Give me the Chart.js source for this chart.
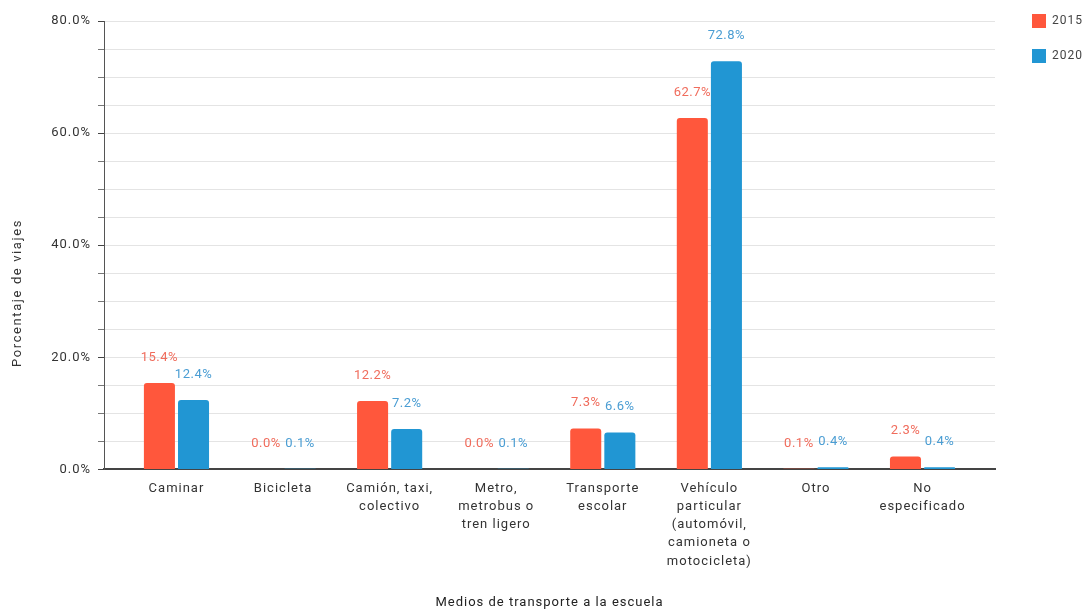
<!DOCTYPE html>
<html>
<head>
<meta charset="utf-8">
<script src="https://cdn.jsdelivr.net/npm/chart.js@4"></script>
<style>
  html, body { margin: 0; padding: 0; background: #ffffff; }
  canvas { display: block; }
</style>
</head>
<body>
<canvas id="chart" width="1092" height="614"></canvas>
<script>
// Modes of transport to school, share of trips (%)
const categories = [
  ['Caminar'],
  ['Bicicleta'],
  ['Camión, taxi,', 'colectivo'],
  ['Metro,', 'metrobus o', 'tren ligero'],
  ['Transporte', 'escolar'],
  ['Vehículo', 'particular', '(automóvil,', 'camioneta o', 'motocicleta)'],
  ['Otro'],
  ['No', 'especificado']
];
const seriesNames = ['2015', '2020'];
const values2015 = [15.4, 0.0, 12.2, 0.0, 7.3, 62.7, 0.1, 2.3];
const values2020 = [12.4, 0.1, 7.2, 0.1, 6.6, 72.8, 0.4, 0.4];
const yLabelledTicks = [0, 20, 40, 60, 80];

const barColors = ['#ff573c', '#2196d3'];
const valueLabelColors = ['#f06c5c', '#4a9dd3'];

Chart.defaults.font.family = 'Roboto, "Liberation Sans", sans-serif';
Chart.defaults.font.size = 13;
Chart.defaults.color = '#333333';

// Slightly open letter spacing for all chart text
const textSpacing = {
  id: 'textSpacing',
  afterInit(chart) { chart.ctx.letterSpacing = '1px'; },
  beforeLayout(chart) { chart.ctx.letterSpacing = '1px'; },
  beforeDraw(chart) { chart.ctx.letterSpacing = '1px'; }
};

// Legend sits in the top-right corner, outside the plot area
const legendPlacement = {
  id: 'legendPlacement',
  afterLayout(chart) {
    const lg = chart.legend;
    if (!lg) return;
    const pad = lg.options.labels.padding;
    lg.left = 1032 - pad;
    lg.top = 14 - pad;
    lg.width = 90;
    lg.height = 140;
    lg.right = lg.left + lg.width;
    lg.bottom = lg.top + lg.height;
  }
};

// Value labels above each bar
const valueLabels = {
  id: 'valueLabels',
  afterDatasetsDraw(chart) {
    const ctx = chart.ctx;
    ctx.save();
    ctx.letterSpacing = '0.5px';
    ctx.font = '13px Roboto, "Liberation Sans", sans-serif';
    ctx.textAlign = 'center';
    ctx.textBaseline = 'middle';
    chart.data.datasets.forEach((ds, di) => {
      const meta = chart.getDatasetMeta(di);
      ctx.fillStyle = valueLabelColors[di];
      meta.data.forEach((bar, i) => {
        const v = ds.data[i].y;
        ctx.fillText(v.toFixed(1) + '%', bar.x, bar.y - 25.5);
      });
    });
    ctx.restore();
  }
};

// Vertical axis title
const yAxisTitle = {
  id: 'yAxisTitle',
  afterDraw(chart) {
    const ctx = chart.ctx;
    ctx.save();
    ctx.letterSpacing = '1.6px';
    ctx.font = '13px Roboto, "Liberation Sans", sans-serif';
    ctx.fillStyle = '#333333';
    ctx.textAlign = 'center';
    ctx.textBaseline = 'middle';
    ctx.translate(18, 293);
    ctx.rotate(-Math.PI / 2);
    ctx.fillText('Porcentaje de viajes', 0, 0);
    ctx.restore();
  }
};

const seriesValues = [values2015, values2020];

new Chart(document.getElementById('chart'), {
  type: 'bar',
  data: {
    datasets: seriesNames.map((name, si) => ({
      label: name,
      data: seriesValues[si].map((v, i) => ({ x: i, y: v })),
      backgroundColor: barColors[si],
      borderWidth: 0,
      borderRadius: 3,
      categoryPercentage: 0.64,
      barPercentage: 0.91
    }))
  },
  options: {
    responsive: false,
    devicePixelRatio: 1,
    animation: false,
    layout: { padding: { top: 21, right: 97, bottom: 0, left: 0 } },
    plugins: {
      legend: {
        position: 'chartArea',
        align: 'start',
        labels: {
          boxWidth: 14,
          boxHeight: 14,
          padding: 21,
          color: '#444444',
          font: { size: 12 }
        }
      },
      tooltip: { enabled: false }
    },
    scales: {
      x: {
        type: 'linear',
        offset: false,
        min: -0.68,
        max: 7.68,
        afterBuildTicks(scale) {
          scale.ticks = categories.map((_, i) => ({ value: i }));
        },
        grid: { display: false, drawTicks: false, offset: false },
        border: { display: true, color: '#444444', width: 2 },
        ticks: {
          autoSkip: false,
          maxRotation: 0,
          minRotation: 0,
          padding: 10,
          color: '#333333',
          font: { size: 13, lineHeight: 1.4 },
          callback: (value) => categories[value]
        },
        title: {
          display: true,
          text: 'Medios de transporte a la escuela',
          color: '#222222',
          font: { size: 13, lineHeight: 1.2 },
          padding: { top: 15, bottom: 3 }
        }
      },
      y: {
        min: 0,
        max: 80,
        afterFit(scale) { scale.width = 104; },
        grid: {
          color: '#e4e4e4',
          tickLength: 6,
          tickColor: (ctx) => (ctx.tick && yLabelledTicks.includes(ctx.tick.value)) ? '#444444' : '#777777'
        },
        border: { display: true, color: '#555555', width: 1 },
        ticks: {
          stepSize: 5,
          autoSkip: false,
          padding: 7,
          color: '#333333',
          font: { size: 13 },
          callback: (value) => yLabelledTicks.includes(value) ? value.toFixed(1) + '%' : ''
        }
      }
    }
  },
  plugins: [textSpacing, legendPlacement, valueLabels, yAxisTitle]
});
</script>
</body>
</html>
